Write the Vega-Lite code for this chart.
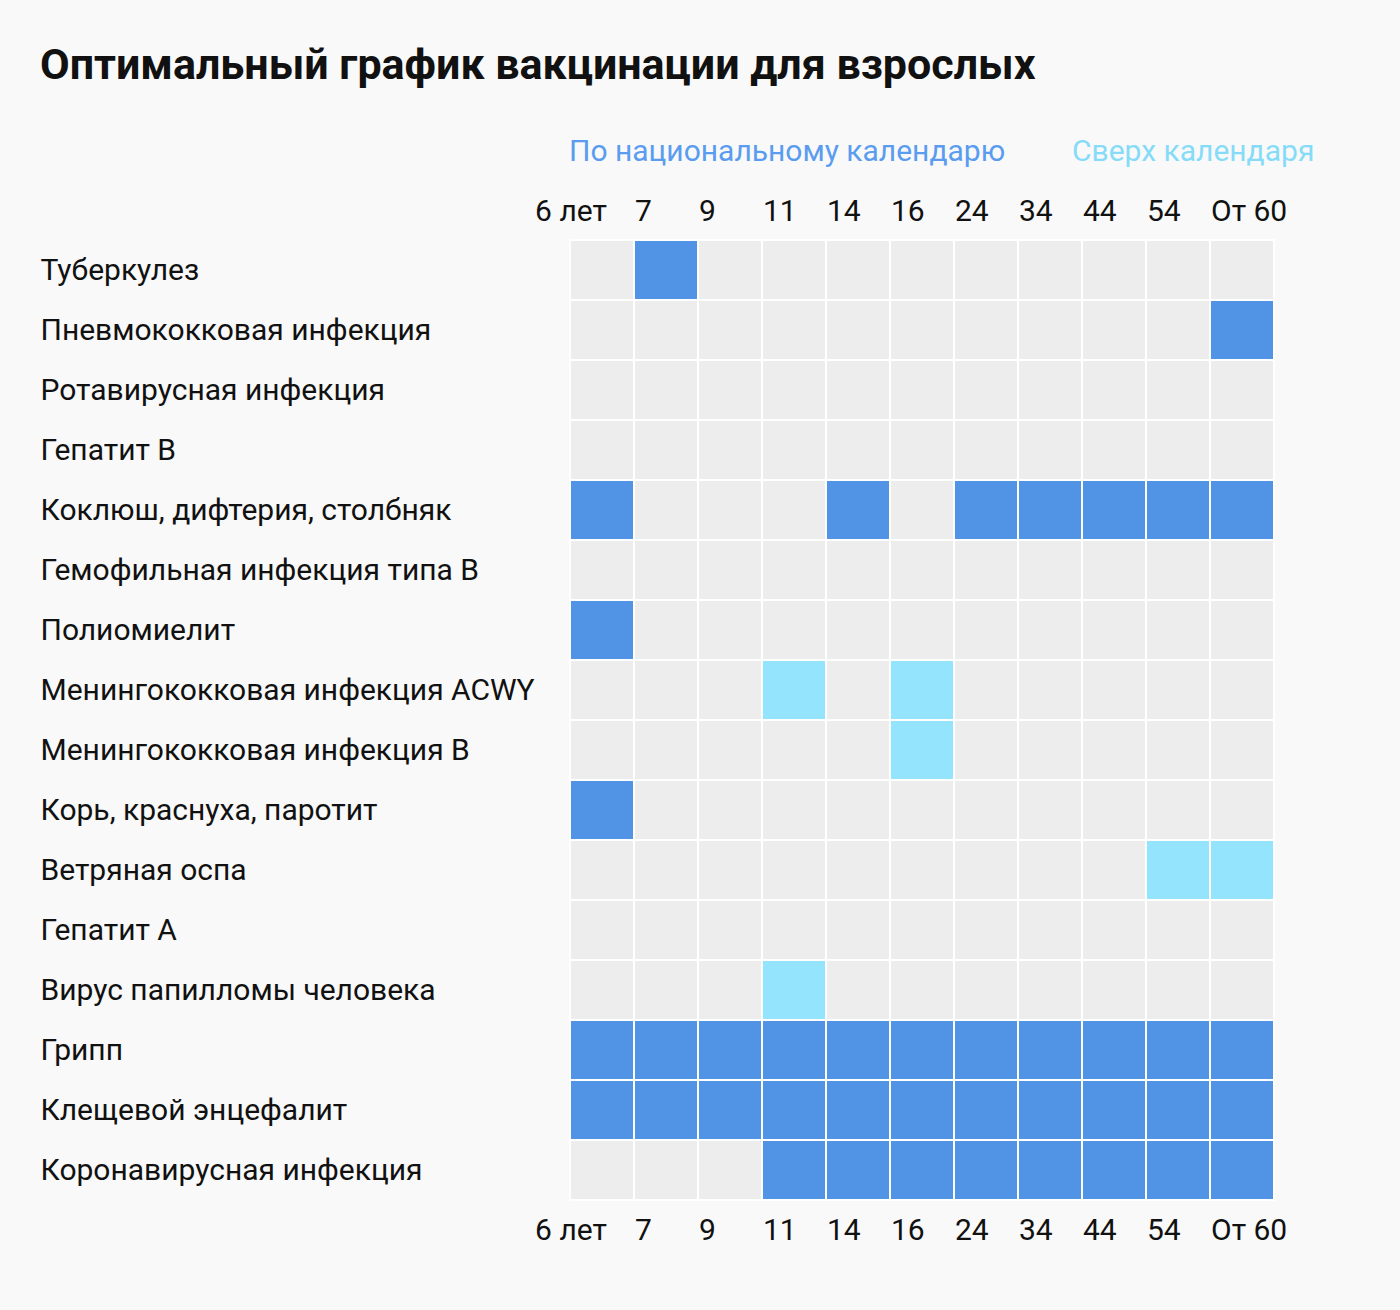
{
 "$schema": "https://vega.github.io/schema/vega-lite/v6.json",
 "width": 704,
 "height": 960,
 "autosize": {"type": "none"},
 "padding": {"left": 570, "top": 240, "right": 126, "bottom": 110},
 "background": "#f9f9f9",
 "title": {"text": "Оптимальный график вакцинации для взрослых", "anchor": "start", "frame": "bounds", "font": "Roboto", "fontSize": 43, "fontWeight": "bold", "color": "#111111", "offset": 49},
 "config": {"view": {"stroke": null}, "font": "Roboto"},
 "data": {"values": [
  {"d":"Туберкулез","a":"6 лет","s":"-"},{"d":"Туберкулез","a":"7","s":"n"},{"d":"Туберкулез","a":"9","s":"-"},{"d":"Туберкулез","a":"11","s":"-"},{"d":"Туберкулез","a":"14","s":"-"},{"d":"Туберкулез","a":"16","s":"-"},{"d":"Туберкулез","a":"24","s":"-"},{"d":"Туберкулез","a":"34","s":"-"},{"d":"Туберкулез","a":"44","s":"-"},{"d":"Туберкулез","a":"54","s":"-"},{"d":"Туберкулез","a":"От 60","s":"-"},
  {"d":"Пневмококковая инфекция","a":"6 лет","s":"-"},{"d":"Пневмококковая инфекция","a":"7","s":"-"},{"d":"Пневмококковая инфекция","a":"9","s":"-"},{"d":"Пневмококковая инфекция","a":"11","s":"-"},{"d":"Пневмококковая инфекция","a":"14","s":"-"},{"d":"Пневмококковая инфекция","a":"16","s":"-"},{"d":"Пневмококковая инфекция","a":"24","s":"-"},{"d":"Пневмококковая инфекция","a":"34","s":"-"},{"d":"Пневмококковая инфекция","a":"44","s":"-"},{"d":"Пневмококковая инфекция","a":"54","s":"-"},{"d":"Пневмококковая инфекция","a":"От 60","s":"n"},
  {"d":"Ротавирусная инфекция","a":"6 лет","s":"-"},{"d":"Ротавирусная инфекция","a":"7","s":"-"},{"d":"Ротавирусная инфекция","a":"9","s":"-"},{"d":"Ротавирусная инфекция","a":"11","s":"-"},{"d":"Ротавирусная инфекция","a":"14","s":"-"},{"d":"Ротавирусная инфекция","a":"16","s":"-"},{"d":"Ротавирусная инфекция","a":"24","s":"-"},{"d":"Ротавирусная инфекция","a":"34","s":"-"},{"d":"Ротавирусная инфекция","a":"44","s":"-"},{"d":"Ротавирусная инфекция","a":"54","s":"-"},{"d":"Ротавирусная инфекция","a":"От 60","s":"-"},
  {"d":"Гепатит B","a":"6 лет","s":"-"},{"d":"Гепатит B","a":"7","s":"-"},{"d":"Гепатит B","a":"9","s":"-"},{"d":"Гепатит B","a":"11","s":"-"},{"d":"Гепатит B","a":"14","s":"-"},{"d":"Гепатит B","a":"16","s":"-"},{"d":"Гепатит B","a":"24","s":"-"},{"d":"Гепатит B","a":"34","s":"-"},{"d":"Гепатит B","a":"44","s":"-"},{"d":"Гепатит B","a":"54","s":"-"},{"d":"Гепатит B","a":"От 60","s":"-"},
  {"d":"Коклюш, дифтерия, столбняк","a":"6 лет","s":"n"},{"d":"Коклюш, дифтерия, столбняк","a":"7","s":"-"},{"d":"Коклюш, дифтерия, столбняк","a":"9","s":"-"},{"d":"Коклюш, дифтерия, столбняк","a":"11","s":"-"},{"d":"Коклюш, дифтерия, столбняк","a":"14","s":"n"},{"d":"Коклюш, дифтерия, столбняк","a":"16","s":"-"},{"d":"Коклюш, дифтерия, столбняк","a":"24","s":"n"},{"d":"Коклюш, дифтерия, столбняк","a":"34","s":"n"},{"d":"Коклюш, дифтерия, столбняк","a":"44","s":"n"},{"d":"Коклюш, дифтерия, столбняк","a":"54","s":"n"},{"d":"Коклюш, дифтерия, столбняк","a":"От 60","s":"n"},
  {"d":"Гемофильная инфекция типа B","a":"6 лет","s":"-"},{"d":"Гемофильная инфекция типа B","a":"7","s":"-"},{"d":"Гемофильная инфекция типа B","a":"9","s":"-"},{"d":"Гемофильная инфекция типа B","a":"11","s":"-"},{"d":"Гемофильная инфекция типа B","a":"14","s":"-"},{"d":"Гемофильная инфекция типа B","a":"16","s":"-"},{"d":"Гемофильная инфекция типа B","a":"24","s":"-"},{"d":"Гемофильная инфекция типа B","a":"34","s":"-"},{"d":"Гемофильная инфекция типа B","a":"44","s":"-"},{"d":"Гемофильная инфекция типа B","a":"54","s":"-"},{"d":"Гемофильная инфекция типа B","a":"От 60","s":"-"},
  {"d":"Полиомиелит","a":"6 лет","s":"n"},{"d":"Полиомиелит","a":"7","s":"-"},{"d":"Полиомиелит","a":"9","s":"-"},{"d":"Полиомиелит","a":"11","s":"-"},{"d":"Полиомиелит","a":"14","s":"-"},{"d":"Полиомиелит","a":"16","s":"-"},{"d":"Полиомиелит","a":"24","s":"-"},{"d":"Полиомиелит","a":"34","s":"-"},{"d":"Полиомиелит","a":"44","s":"-"},{"d":"Полиомиелит","a":"54","s":"-"},{"d":"Полиомиелит","a":"От 60","s":"-"},
  {"d":"Менингококковая инфекция ACWY","a":"6 лет","s":"-"},{"d":"Менингококковая инфекция ACWY","a":"7","s":"-"},{"d":"Менингококковая инфекция ACWY","a":"9","s":"-"},{"d":"Менингококковая инфекция ACWY","a":"11","s":"e"},{"d":"Менингококковая инфекция ACWY","a":"14","s":"-"},{"d":"Менингококковая инфекция ACWY","a":"16","s":"e"},{"d":"Менингококковая инфекция ACWY","a":"24","s":"-"},{"d":"Менингококковая инфекция ACWY","a":"34","s":"-"},{"d":"Менингококковая инфекция ACWY","a":"44","s":"-"},{"d":"Менингококковая инфекция ACWY","a":"54","s":"-"},{"d":"Менингококковая инфекция ACWY","a":"От 60","s":"-"},
  {"d":"Менингококковая инфекция B","a":"6 лет","s":"-"},{"d":"Менингококковая инфекция B","a":"7","s":"-"},{"d":"Менингококковая инфекция B","a":"9","s":"-"},{"d":"Менингококковая инфекция B","a":"11","s":"-"},{"d":"Менингококковая инфекция B","a":"14","s":"-"},{"d":"Менингококковая инфекция B","a":"16","s":"e"},{"d":"Менингококковая инфекция B","a":"24","s":"-"},{"d":"Менингококковая инфекция B","a":"34","s":"-"},{"d":"Менингококковая инфекция B","a":"44","s":"-"},{"d":"Менингококковая инфекция B","a":"54","s":"-"},{"d":"Менингококковая инфекция B","a":"От 60","s":"-"},
  {"d":"Корь, краснуха, паротит","a":"6 лет","s":"n"},{"d":"Корь, краснуха, паротит","a":"7","s":"-"},{"d":"Корь, краснуха, паротит","a":"9","s":"-"},{"d":"Корь, краснуха, паротит","a":"11","s":"-"},{"d":"Корь, краснуха, паротит","a":"14","s":"-"},{"d":"Корь, краснуха, паротит","a":"16","s":"-"},{"d":"Корь, краснуха, паротит","a":"24","s":"-"},{"d":"Корь, краснуха, паротит","a":"34","s":"-"},{"d":"Корь, краснуха, паротит","a":"44","s":"-"},{"d":"Корь, краснуха, паротит","a":"54","s":"-"},{"d":"Корь, краснуха, паротит","a":"От 60","s":"-"},
  {"d":"Ветряная оспа","a":"6 лет","s":"-"},{"d":"Ветряная оспа","a":"7","s":"-"},{"d":"Ветряная оспа","a":"9","s":"-"},{"d":"Ветряная оспа","a":"11","s":"-"},{"d":"Ветряная оспа","a":"14","s":"-"},{"d":"Ветряная оспа","a":"16","s":"-"},{"d":"Ветряная оспа","a":"24","s":"-"},{"d":"Ветряная оспа","a":"34","s":"-"},{"d":"Ветряная оспа","a":"44","s":"-"},{"d":"Ветряная оспа","a":"54","s":"e"},{"d":"Ветряная оспа","a":"От 60","s":"e"},
  {"d":"Гепатит A","a":"6 лет","s":"-"},{"d":"Гепатит A","a":"7","s":"-"},{"d":"Гепатит A","a":"9","s":"-"},{"d":"Гепатит A","a":"11","s":"-"},{"d":"Гепатит A","a":"14","s":"-"},{"d":"Гепатит A","a":"16","s":"-"},{"d":"Гепатит A","a":"24","s":"-"},{"d":"Гепатит A","a":"34","s":"-"},{"d":"Гепатит A","a":"44","s":"-"},{"d":"Гепатит A","a":"54","s":"-"},{"d":"Гепатит A","a":"От 60","s":"-"},
  {"d":"Вирус папилломы человека","a":"6 лет","s":"-"},{"d":"Вирус папилломы человека","a":"7","s":"-"},{"d":"Вирус папилломы человека","a":"9","s":"-"},{"d":"Вирус папилломы человека","a":"11","s":"e"},{"d":"Вирус папилломы человека","a":"14","s":"-"},{"d":"Вирус папилломы человека","a":"16","s":"-"},{"d":"Вирус папилломы человека","a":"24","s":"-"},{"d":"Вирус папилломы человека","a":"34","s":"-"},{"d":"Вирус папилломы человека","a":"44","s":"-"},{"d":"Вирус папилломы человека","a":"54","s":"-"},{"d":"Вирус папилломы человека","a":"От 60","s":"-"},
  {"d":"Грипп","a":"6 лет","s":"n"},{"d":"Грипп","a":"7","s":"n"},{"d":"Грипп","a":"9","s":"n"},{"d":"Грипп","a":"11","s":"n"},{"d":"Грипп","a":"14","s":"n"},{"d":"Грипп","a":"16","s":"n"},{"d":"Грипп","a":"24","s":"n"},{"d":"Грипп","a":"34","s":"n"},{"d":"Грипп","a":"44","s":"n"},{"d":"Грипп","a":"54","s":"n"},{"d":"Грипп","a":"От 60","s":"n"},
  {"d":"Клещевой энцефалит","a":"6 лет","s":"n"},{"d":"Клещевой энцефалит","a":"7","s":"n"},{"d":"Клещевой энцефалит","a":"9","s":"n"},{"d":"Клещевой энцефалит","a":"11","s":"n"},{"d":"Клещевой энцефалит","a":"14","s":"n"},{"d":"Клещевой энцефалит","a":"16","s":"n"},{"d":"Клещевой энцефалит","a":"24","s":"n"},{"d":"Клещевой энцефалит","a":"34","s":"n"},{"d":"Клещевой энцефалит","a":"44","s":"n"},{"d":"Клещевой энцефалит","a":"54","s":"n"},{"d":"Клещевой энцефалит","a":"От 60","s":"n"},
  {"d":"Коронавирусная инфекция","a":"6 лет","s":"-"},{"d":"Коронавирусная инфекция","a":"7","s":"-"},{"d":"Коронавирусная инфекция","a":"9","s":"-"},{"d":"Коронавирусная инфекция","a":"11","s":"n"},{"d":"Коронавирусная инфекция","a":"14","s":"n"},{"d":"Коронавирусная инфекция","a":"16","s":"n"},{"d":"Коронавирусная инфекция","a":"24","s":"n"},{"d":"Коронавирусная инфекция","a":"34","s":"n"},{"d":"Коронавирусная инфекция","a":"44","s":"n"},{"d":"Коронавирусная инфекция","a":"54","s":"n"},{"d":"Коронавирусная инфекция","a":"От 60","s":"n"}
 ]},
 "layer": [
  {
   "mark": {"type": "rect", "stroke": "#ffffff", "strokeWidth": 2},
   "encoding": {
    "x": {"field": "a", "type": "nominal", "sort": ["6 лет","7","9","11","14","16","24","34","44","54","От 60"], "scale": {"paddingInner": 0, "paddingOuter": 0},
     "axis": {"orient": "top", "title": null, "domain": false, "ticks": false, "tickSize": 0, "grid": false, "labelAngle": 0, "labelFont": "Roboto", "labelFontSize": 30, "labelColor": "#111111", "labelPadding": 20, "labelBaseline": "alphabetic", "labelOffset": -31, "labelOverlap": false, "labelBound": false, "labelFlush": false,
      "labelAlign": {"condition": {"test": "datum.value === '6 лет'", "value": "center"}, "value": "left"}}},
    "y": {"field": "d", "type": "nominal", "sort": ["Туберкулез","Пневмококковая инфекция","Ротавирусная инфекция","Гепатит B","Коклюш, дифтерия, столбняк","Гемофильная инфекция типа B","Полиомиелит","Менингококковая инфекция ACWY","Менингококковая инфекция B","Корь, краснуха, паротит","Ветряная оспа","Гепатит A","Вирус папилломы человека","Грипп","Клещевой энцефалит","Коронавирусная инфекция"], "scale": {"paddingInner": 0, "paddingOuter": 0},
     "axis": {"orient": "left", "title": null, "domain": false, "ticks": false, "tickSize": 0, "grid": false, "labelAlign": "left", "labelPadding": 530, "labelFont": "Roboto", "labelFontSize": 30, "labelColor": "#111111", "labelBaseline": "alphabetic", "labelOffset": 10, "labelLimit": 600, "labelOverlap": false}},
    "color": {"field": "s", "type": "nominal", "scale": {"domain": ["n", "e", "-"], "range": ["#5193e5", "#94e4fd", "#ededed"]},
     "legend": {"values": ["n", "e"], "orient": "none", "legendX": -31, "legendY": -103, "direction": "horizontal", "title": null, "padding": 0, "symbolSize": 0, "symbolStrokeWidth": 0, "symbolOpacity": 0, "labelOffset": 0, "columnPadding": 36, "labelFont": "Roboto", "labelFontSize": 30, "labelLimit": 800,
      "labelExpr": "datum.value === 'n' ? 'По национальному календарю' : 'Сверх календаря'",
      "labelColor": {"expr": "datum.value === 'n' ? '#5a9cf0' : '#86dcf8'"}}}
   }
  },
  {
   "mark": {"type": "rect", "opacity": 0},
   "encoding": {
    "x": {"field": "a", "type": "nominal", "sort": ["6 лет","7","9","11","14","16","24","34","44","54","От 60"],
     "axis": {"orient": "bottom", "title": null, "domain": false, "ticks": false, "tickSize": 0, "grid": false, "labelAngle": 0, "labelFont": "Roboto", "labelFontSize": 30, "labelColor": "#111111", "labelPadding": 39, "labelBaseline": "alphabetic", "labelOffset": -31, "labelOverlap": false, "labelBound": false, "labelFlush": false,
      "labelAlign": {"condition": {"test": "datum.value === '6 лет'", "value": "center"}, "value": "left"}}},
    "y": {"field": "d", "type": "nominal", "sort": ["Туберкулез","Пневмококковая инфекция","Ротавирусная инфекция","Гепатит B","Коклюш, дифтерия, столбняк","Гемофильная инфекция типа B","Полиомиелит","Менингококковая инфекция ACWY","Менингококковая инфекция B","Корь, краснуха, паротит","Ветряная оспа","Гепатит A","Вирус папилломы человека","Грипп","Клещевой энцефалит","Коронавирусная инфекция"]}
   }
  }
 ],
 "resolve": {"axis": {"x": "independent"}}
}
